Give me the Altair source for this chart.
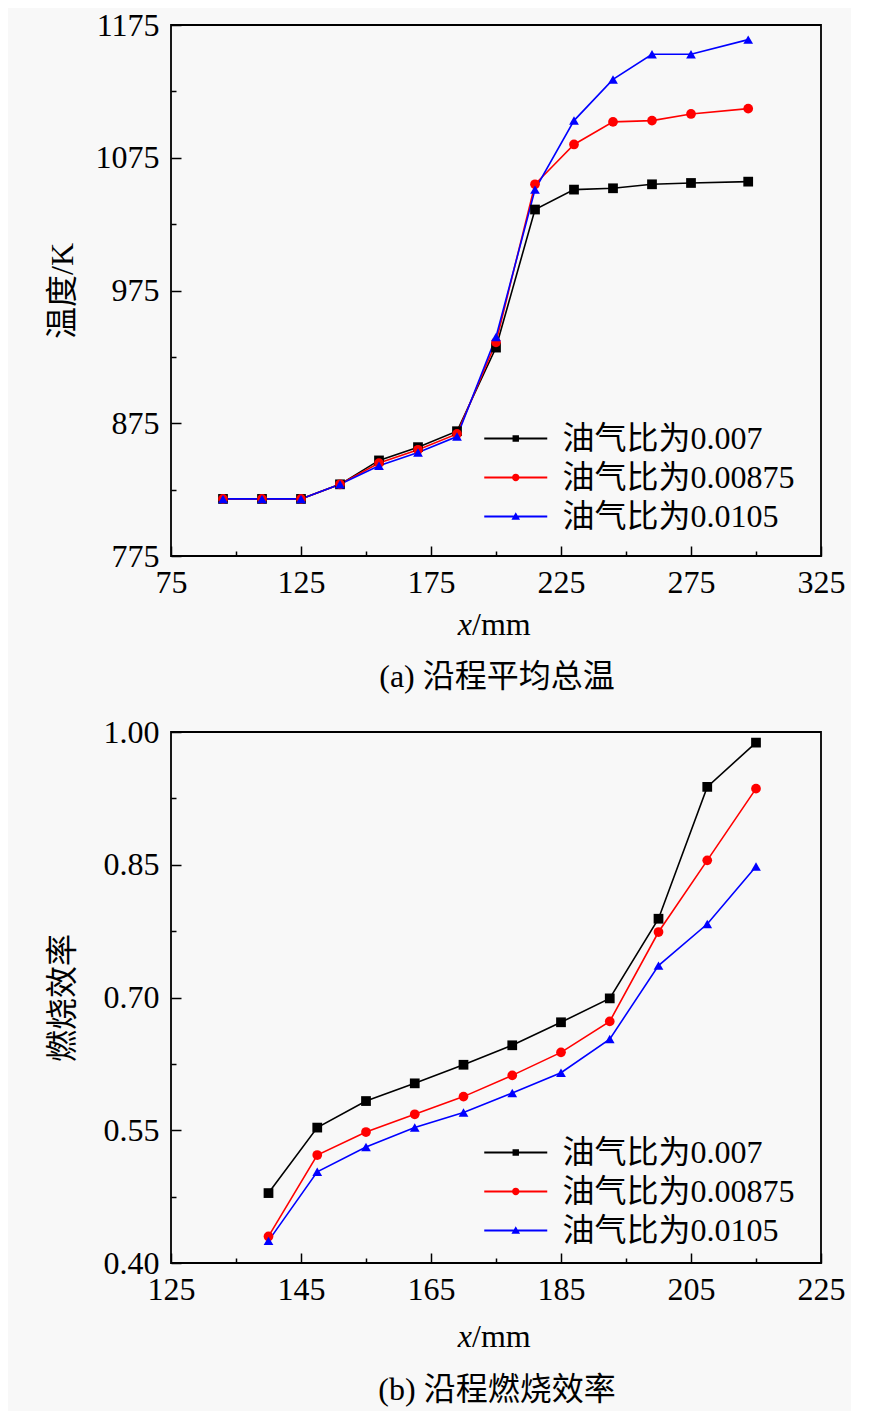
import altair as alt
import pandas as pd

# ---------------- data ----------------
series = ["油气比为0.007", "油气比为0.00875", "油气比为0.0105"]
colors = ["#000000", "#ff0000", "#0000ff"]
shapes = ["square", "circle", "triangle-up"]

# (a) temperature
x_a = [95, 110, 125, 140, 155, 170, 185, 200, 215, 230, 245, 260, 275, 297]
t_007 = [818, 818, 818, 829, 847, 857, 869, 932, 1036, 1051, 1052, 1055, 1056, 1057]
t_00875 = [818, 818, 818, 829, 845, 855, 867, 936, 1055, 1085, 1102, 1103, 1108, 1112]
t_0105 = [818, 818, 818, 829, 843, 853, 865, 940, 1051, 1103, 1134, 1153, 1153, 1164]

# (b) combustion efficiency
x_b = [140, 147.5, 155, 162.5, 170, 177.5, 185, 192.5, 200, 207.5, 215]
e_007 = [0.479, 0.553, 0.583, 0.603, 0.624, 0.646, 0.672, 0.699, 0.789, 0.938, 0.988]
e_00875 = [0.430, 0.522, 0.548, 0.568, 0.588, 0.612, 0.638, 0.673, 0.774, 0.855, 0.936]
e_0105 = [0.425, 0.503, 0.531, 0.553, 0.570, 0.592, 0.615, 0.653, 0.736, 0.783, 0.848]

xa_major = [75, 125, 175, 225, 275, 325]
xa_minor = [100, 150, 200, 250, 300]
ya_major = [775, 875, 975, 1075, 1175]
ya_minor = [825, 925, 1025, 1125]

xb_major = [125, 145, 165, 185, 205, 225]
xb_minor = [135, 155, 175, 195, 215]
yb_major = [0.40, 0.55, 0.70, 0.85, 1.00]
yb_minor = [0.475, 0.625, 0.775, 0.925]

W, H = 650, 531
FS = 32
SERIF = "Liberation Serif, Times New Roman, Noto Sans CJK SC"

# legend symbols: line segment + small marker (custom paths in unit space)
HALF = 22.25                   # sqrt(SYM)/2
SYM = int(round((2 * HALF) ** 2))
K = 31.5 / HALF
u = 1 / HALF                   # one pixel in unit space
LINE = f"M{-K},{-1.0*u}H{K}V{1.0*u}H{-K}Z "
leg_shapes = [
    LINE + f"M{-3.2*u},{-3.2*u}H{3.2*u}V{3.2*u}H{-3.2*u}Z",
    LINE + f"M{3.7*u},0A{3.7*u},{3.7*u} 0 1,1 {-3.7*u},0A{3.7*u},{3.7*u} 0 1,1 {3.7*u},0Z",
    LINE + f"M0,{-4.3*u}L{4.3*u},{3.2*u}H{-4.3*u}Z",
]


def long_df(xs, ys_list):
    rows = []
    for s, ys in zip(series, ys_list):
        for xv, yv in zip(xs, ys):
            rows.append({"x": xv, "y": yv, "s": s})
    return pd.DataFrame(rows)


def legend_spec(ly):
    return alt.Legend(
        orient="none", legendX=322.25, legendY=ly, title=None,
        labelFont=SERIF, labelFontSize=FS, labelColor="black",
        symbolSize=SYM, symbolStrokeWidth=0, symbolOpacity=1,
        rowPadding=0, labelOffset=24.25, labelLimit=400)


def panel(df, xdom, ydom, xmaj, xmin, ymaj, ymin, yfmt, ytitle, ytitle_pad,
          caption, xtitle_y, cap_y, ly):
    xs = alt.Scale(domain=xdom, nice=False, zero=False)
    ys = alt.Scale(domain=ydom, nice=False, zero=False)
    cscale = alt.Scale(domain=series, range=colors)
    sscale = alt.Scale(domain=series, range=shapes)

    common = dict(domain=False, grid=False, ticks=True, tickColor="black",
                  tickWidth=1.5, labelFlush=False)
    xaxis = alt.Axis(values=xmaj, tickSize=10, offset=-10, orient="bottom",
                     labelPadding=11, labelFont=SERIF, labelFontSize=FS,
                     labelColor="black", title=None, **common)
    yaxis = alt.Axis(values=ymaj, tickSize=10, offset=-10, orient="left",
                     labelPadding=12, labelFont=SERIF, labelFontSize=FS,
                     labelColor="black", format=yfmt, title=ytitle,
                     titleFont=SERIF, titleFontSize=FS, titleFontWeight="normal",
                     titleColor="black", titlePadding=ytitle_pad, **common)
    xaxis_min = alt.Axis(values=xmin, tickSize=5, offset=-5, orient="bottom",
                         labels=False, title=None, **common)
    yaxis_min = alt.Axis(values=ymin, tickSize=5, offset=-5, orient="left",
                         labels=False, title=None, **common)

    base = alt.Chart(df)
    lines = base.mark_line(strokeWidth=1.6, clip=True).encode(
        x=alt.X("x:Q", scale=xs, axis=xaxis),
        y=alt.Y("y:Q", scale=ys, axis=yaxis),
        color=alt.Color("s:N", scale=cscale, legend=None),
        detail="s:N",
    )
    pts = base.mark_point(filled=True, opacity=1, size=95).encode(
        x=alt.X("x:Q", axis=xaxis_min),
        y=alt.Y("y:Q", axis=yaxis_min),
        color=alt.Color("s:N", scale=cscale, legend=None),
        shape=alt.Shape("s:N", scale=sscale, legend=None),
    )
    leg = base.transform_filter("false").mark_point(filled=True, opacity=1).encode(
        x=alt.X("x:Q", axis=None),
        y=alt.Y("y:Q", axis=None),
        color=alt.Color("s:N", scale=cscale, legend=legend_spec(ly)),
        shape=alt.Shape("s:N", scale=alt.Scale(domain=series, range=leg_shapes),
                        legend=legend_spec(ly)),
    )

    tdf = pd.DataFrame({"a": [0]})
    xt1 = alt.Chart(tdf).mark_text(text="x", font=SERIF, fontSize=FS, fontStyle="italic",
                                   align="right", baseline="middle", color="black").encode(
        x=alt.value(W / 2 - 24), y=alt.value(xtitle_y))
    xt2 = alt.Chart(tdf).mark_text(text="/mm", font=SERIF, fontSize=FS,
                                   align="left", baseline="middle", color="black").encode(
        x=alt.value(W / 2 - 24), y=alt.value(xtitle_y))
    cap = alt.Chart(tdf).mark_text(text=caption, font=SERIF, fontSize=FS,
                                   align="center", baseline="middle", color="black").encode(
        x=alt.value(W / 2 + 1), y=alt.value(cap_y))

    return alt.layer(lines, pts, leg, xt1, xt2, cap).resolve_scale(
        color="independent", shape="independent").resolve_axis(
        x="independent", y="independent").properties(width=W, height=H)


df_a = long_df(x_a, [t_007, t_00875, t_0105])
df_b = long_df(x_b, [e_007, e_00875, e_0105])

top = panel(df_a, [75, 325], [775, 1175], xa_major, xa_minor, ya_major, ya_minor,
            "d", "温度/K", 16, "(a) 沿程平均总温", 600, 652, 391)
bot = panel(df_b, [125, 225], [0.40, 1.00], xb_major, xb_minor, yb_major, yb_minor,
            ".2f", "燃烧效率", 24, "(b) 沿程燃烧效率", 605, 658, 398)

chart = alt.vconcat(top, bot, spacing=21).properties(
    background="#f8f8f8",
    padding={"left": 37, "top": 0, "right": 5, "bottom": 5},
).configure_view(stroke="black", strokeWidth=1.8)

chart.save("out.html", embed_options={"renderer": "svg", "actions": False})
